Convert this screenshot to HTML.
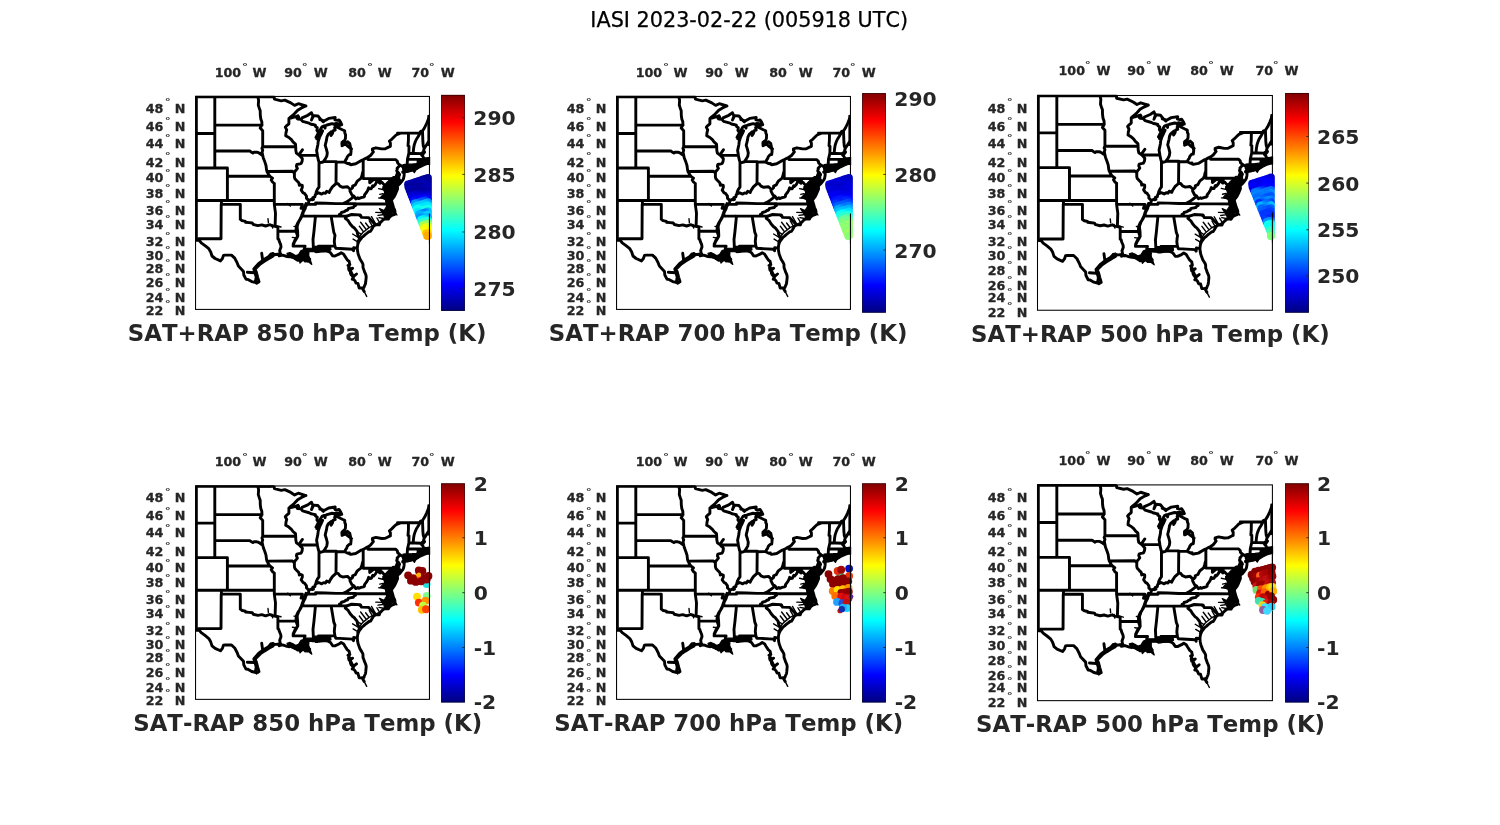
<!DOCTYPE html>
<html><head><meta charset="utf-8"><title>IASI 2023-02-22 (005918 UTC)</title>
<style>
html,body{margin:0;padding:0;background:#fff;}
body{width:1500px;height:825px;overflow:hidden;}
svg{display:block;font-family:"DejaVu Sans","Liberation Sans",sans-serif;font-kerning:none;}
.b{font-weight:bold;fill:#262626;}
.tk{font-size:12.7px;stroke:#262626;stroke-width:0.3px;}
.cb{font-size:20.3px;}
.xl{font-size:22.85px;}
.dg{font-size:11px;font-weight:bold;fill:#1a1a1a;}
</style></head><body>
<svg width="1500" height="825" viewBox="0 0 1500 825">
<defs>
<linearGradient id="jet" x1="0" y1="1" x2="0" y2="0">
<stop offset="0.0000" stop-color="#000080"/>
<stop offset="0.0156" stop-color="#00008f"/>
<stop offset="0.0312" stop-color="#00009f"/>
<stop offset="0.0469" stop-color="#0000af"/>
<stop offset="0.0625" stop-color="#0000bf"/>
<stop offset="0.0781" stop-color="#0000cf"/>
<stop offset="0.0938" stop-color="#0000df"/>
<stop offset="0.1094" stop-color="#0000ef"/>
<stop offset="0.1250" stop-color="#0000ff"/>
<stop offset="0.1406" stop-color="#0010ff"/>
<stop offset="0.1562" stop-color="#0020ff"/>
<stop offset="0.1719" stop-color="#0030ff"/>
<stop offset="0.1875" stop-color="#0040ff"/>
<stop offset="0.2031" stop-color="#0050ff"/>
<stop offset="0.2188" stop-color="#0060ff"/>
<stop offset="0.2344" stop-color="#0070ff"/>
<stop offset="0.2500" stop-color="#0080ff"/>
<stop offset="0.2656" stop-color="#008fff"/>
<stop offset="0.2812" stop-color="#009fff"/>
<stop offset="0.2969" stop-color="#00afff"/>
<stop offset="0.3125" stop-color="#00bfff"/>
<stop offset="0.3281" stop-color="#00cfff"/>
<stop offset="0.3438" stop-color="#00dfff"/>
<stop offset="0.3594" stop-color="#00efff"/>
<stop offset="0.3750" stop-color="#00ffff"/>
<stop offset="0.3906" stop-color="#10ffef"/>
<stop offset="0.4062" stop-color="#20ffdf"/>
<stop offset="0.4219" stop-color="#30ffcf"/>
<stop offset="0.4375" stop-color="#40ffbf"/>
<stop offset="0.4531" stop-color="#50ffaf"/>
<stop offset="0.4688" stop-color="#60ff9f"/>
<stop offset="0.4844" stop-color="#70ff8f"/>
<stop offset="0.5000" stop-color="#80ff80"/>
<stop offset="0.5156" stop-color="#8fff70"/>
<stop offset="0.5312" stop-color="#9fff60"/>
<stop offset="0.5469" stop-color="#afff50"/>
<stop offset="0.5625" stop-color="#bfff40"/>
<stop offset="0.5781" stop-color="#cfff30"/>
<stop offset="0.5938" stop-color="#dfff20"/>
<stop offset="0.6094" stop-color="#efff10"/>
<stop offset="0.6250" stop-color="#ffff00"/>
<stop offset="0.6406" stop-color="#ffef00"/>
<stop offset="0.6562" stop-color="#ffdf00"/>
<stop offset="0.6719" stop-color="#ffcf00"/>
<stop offset="0.6875" stop-color="#ffbf00"/>
<stop offset="0.7031" stop-color="#ffaf00"/>
<stop offset="0.7188" stop-color="#ff9f00"/>
<stop offset="0.7344" stop-color="#ff8f00"/>
<stop offset="0.7500" stop-color="#ff8000"/>
<stop offset="0.7656" stop-color="#ff7000"/>
<stop offset="0.7812" stop-color="#ff6000"/>
<stop offset="0.7969" stop-color="#ff5000"/>
<stop offset="0.8125" stop-color="#ff4000"/>
<stop offset="0.8281" stop-color="#ff3000"/>
<stop offset="0.8438" stop-color="#ff2000"/>
<stop offset="0.8594" stop-color="#ff1000"/>
<stop offset="0.8750" stop-color="#ff0000"/>
<stop offset="0.8906" stop-color="#ef0000"/>
<stop offset="0.9062" stop-color="#df0000"/>
<stop offset="0.9219" stop-color="#cf0000"/>
<stop offset="0.9375" stop-color="#bf0000"/>
<stop offset="0.9531" stop-color="#af0000"/>
<stop offset="0.9688" stop-color="#9f0000"/>
<stop offset="0.9844" stop-color="#8f0000"/>
<stop offset="1.0000" stop-color="#800000"/>
</linearGradient>
<clipPath id="mc"><rect x="195.55" y="96.45" width="234.30" height="212.97"/></clipPath>
<g id="usmap"><g clip-path="url(#mc)"><path d="M214.8 96.5L214.8 133.5M193.0 133.5L214.8 133.5M214.8 133.5L214.8 168.0M193.0 168.0L227.4 168.0M227.4 168.0L227.4 200.5M227.4 176.3L269.9 176.3M193.0 200.5L274.3 200.5M221.4 200.5L221.4 204.4L221.2 204.4L221.0 238.8M221.0 238.8L198.6 238.8L199.2 240.4L193.0 240.4M221.4 204.4L240.3 204.4L240.3 219.4M214.8 125.0L262.0 125.1M214.8 151.0L249.8 151.0L251.1 151.9L252.9 153.0L253.9 152.2L256.7 152.2L258.0 152.5L259.7 153.4L261.1 154.5L262.7 155.4M257.8 96.5L258.6 100.3L258.3 105.1L259.2 107.9L260.2 110.7L260.3 115.3L260.8 119.0L261.8 121.8L262.0 125.1M262.0 125.1L260.2 128.1L262.7 130.8L262.7 146.7L261.9 148.4L262.7 150.2L262.1 152.3L262.7 155.4M262.7 146.7L295.7 146.7M267.0 171.5L292.5 171.3L294.4 173.2M262.7 155.4L263.3 157.9L264.9 162.1L266.0 165.5L266.5 169.7L267.0 171.5L268.4 174.2L269.9 176.3L272.5 178.2L271.2 180.0L272.5 182.0L274.3 183.5M274.3 183.5L274.3 204.4L275.5 213.1L275.1 226.4M274.3 204.4L302.4 204.4L301.1 208.3L305.3 208.3M275.1 226.4L277.9 227.1L277.9 238.8L278.8 239.5L279.4 241.7L280.7 244.7L281.0 246.9L279.7 250.5L280.1 252.7L278.8 254.9L279.2 255.8M277.9 231.1L296.0 231.3M240.3 219.4L242.2 220.7L245.4 221.4L245.4 222.2L249.2 222.6L252.3 223.0L253.3 224.5L258.0 225.6L261.8 224.9L265.6 226.0L270.0 224.7L272.5 226.0L275.1 226.4M290.1 117.7L288.9 118.5L288.9 123.8L286.4 125.9L285.3 127.2L286.7 129.9L286.0 132.6L285.7 135.7L288.9 137.5L291.4 139.7L293.0 141.9L295.5 144.1L295.7 146.7M295.7 146.7L295.8 150.2L296.4 153.2L299.3 155.3L300.9 157.0L302.4 158.7L302.1 161.3L301.2 163.4L299.9 163.8L296.8 164.5L296.4 166.3L297.4 168.4L296.4 169.7L294.6 171.8L294.4 173.2L294.4 176.9L294.9 178.8L296.8 180.8L298.8 182.8L299.3 185.3L300.5 184.8L302.3 185.4L302.3 187.5L301.2 190.1L303.1 192.8L304.5 193.3L306.5 196.1L306.4 198.1L308.9 200.6M308.9 200.6L308.4 203.6L306.2 204.0L307.0 204.4L305.6 206.8L305.3 208.3L304.0 210.7L302.9 213.0L302.9 215.1L301.5 216.1L299.7 219.9L297.7 223.0L296.4 226.0L296.1 228.6L296.0 231.3L297.7 236.3L296.4 238.8L294.4 242.1L293.3 244.7L293.1 246.1L305.1 246.1L304.3 248.7L305.6 251.3L306.3 252.2M299.3 155.3L317.3 155.4M308.9 200.6L311.4 199.3L312.2 199.9L313.5 199.4L312.9 197.5L314.9 196.8L315.2 194.9L315.8 194.1L318.7 192.8L321.7 194.1L323.6 192.9L325.5 193.3L326.7 191.3L329.2 192.5L330.1 190.4L332.4 186.9L336.0 183.7L338.1 183.7L340.0 186.1L342.8 187.3L347.5 186.7L350.1 189.2L351.0 189.2L352.6 187.7L352.6 186.1L355.3 184.9L356.6 182.3L357.3 181.2L360.9 178.4L361.9 175.7L362.5 173.0L363.2 171.0M315.8 194.1L316.3 191.7L317.5 189.2L319.0 187.1L319.0 181.6L319.0 161.9M363.2 159.8L363.2 178.6M363.2 178.6L393.0 178.6M393.0 178.6L393.5 177.9L394.3 177.6L395.3 177.9M393.0 178.6L393.0 188.8L397.6 188.9M369.7 178.6L369.7 182.8L372.3 180.6L374.3 179.2L376.1 180.2L377.9 178.8L380.2 179.6L380.7 181.9L381.9 182.3L383.5 184.1L385.1 185.3L385.1 186.9L383.5 188.9L385.3 189.7L387.9 191.3L389.6 192.2M380.7 181.9L380.1 183.3L376.8 180.7L376.8 181.7L375.5 184.2L373.6 186.4L372.7 185.7L371.3 188.7L369.7 188.8L368.6 187.7L367.7 190.4L366.4 192.5L364.5 194.9L364.5 196.3L363.5 197.1L361.1 197.7L358.7 198.6L357.9 197.8L355.8 198.9L354.0 196.2M354.0 196.2L351.9 194.9L350.0 191.2L350.1 189.2M354.0 196.2L351.9 198.1L349.3 200.1L346.9 201.7L343.2 203.6M343.2 203.6L355.8 203.7L392.5 204.0M343.2 203.6L336.3 203.6L325.5 203.2L315.6 203.0L315.6 204.4L307.0 204.4M301.5 216.1L346.8 216.1M339.2 216.1L339.4 214.4L341.0 213.8L341.5 212.5L344.4 211.7L345.9 210.5L347.7 210.0L348.2 208.7L350.0 208.1L353.3 207.5L354.3 206.0L355.5 205.6L355.8 203.7M346.8 216.1L351.6 214.5L359.9 214.9L359.9 215.7L360.6 215.3L361.5 217.4L368.5 217.6L375.6 224.9M346.8 216.1L345.3 218.4L348.2 220.7L350.0 223.7L352.6 226.7L354.1 227.7L357.0 231.3L357.6 234.3L359.2 237.6L361.1 238.5M331.1 216.1L333.8 232.3L335.0 235.3L334.6 238.0L334.3 241.7L334.9 246.1L335.8 248.3M335.8 248.3L352.5 249.3L353.5 250.8L353.7 247.7L357.3 248.3M334.9 246.1L318.5 246.1L319.8 248.7L319.0 251.4M314.7 216.1L315.4 216.8L313.9 232.0L313.0 239.5L313.5 250.9M336.2 162.1L336.0 183.7M344.7 161.9L336.2 162.1L336.2 161.6L323.4 161.6M367.9 157.3L367.9 159.6L395.8 159.6L397.5 161.5L397.6 163.0L399.9 165.0M399.9 165.0L398.6 166.8L397.1 168.3L397.3 169.3L396.7 170.7L397.6 173.0L399.5 174.7L397.6 176.3L397.1 177.1L395.3 177.9L394.4 179.3M399.9 165.0L404.9 168.0M406.4 168.1L406.0 167.2L407.5 166.3L407.1 165.5L407.5 159.2L408.9 153.2L409.0 146.3L408.0 145.8L408.4 140.6L408.5 133.4M407.5 159.2L418.1 159.4L420.8 159.4L420.8 160.4L421.1 161.5L422.4 163.9M418.1 159.4L418.1 164.7L417.8 165.3M408.9 153.2L421.3 153.6L421.6 153.3L423.2 152.2L424.3 152.2M199.2 240.4L201.2 242.8L205.0 245.6L208.8 248.7L210.7 252.0L212.0 256.0L215.1 258.5L220.5 260.9L222.4 258.5L223.5 255.4L225.2 255.1L231.5 255.1L234.7 258.1L237.2 262.9L238.4 266.1L243.5 271.4L243.8 275.0L246.0 279.2L247.9 279.4L251.7 281.6L256.1 282.7L258.3 282.3M279.2 255.8L282.6 255.1L287.0 256.5L289.5 256.9L290.8 256.4L291.7 257.1L294.6 257.1L295.2 258.5L297.7 260.3L300.9 260.1L302.1 260.0L303.4 258.9L304.0 258.5L305.9 258.9L307.2 261.1L308.7 260.7L309.7 259.3L308.1 258.2L306.5 257.1L305.9 256.0L307.8 254.9L308.1 253.1L305.9 252.7L306.3 252.2M306.3 252.2L307.8 251.3L309.1 250.8L310.3 250.5L312.5 250.9L313.5 250.9L315.4 251.1L315.8 248.5L316.3 248.5L316.6 250.5L316.0 251.8L317.9 251.6L319.0 251.4M319.0 251.4L321.0 251.1L325.5 250.7L328.6 251.6L330.5 252.7L332.7 255.9L334.9 256.0L339.0 254.2L341.2 252.7L343.7 254.2L345.0 256.4L347.2 259.8L349.1 261.4L349.7 264.3L348.8 266.8L348.6 268.2L349.1 270.4L351.0 268.6L350.4 271.4L350.4 272.9L351.0 274.6L352.6 276.4L353.5 275.3L353.2 278.9L355.1 281.0L356.0 283.1L357.9 283.4L359.2 288.0L360.8 288.0L363.9 287.6L364.2 286.6L365.5 283.6L365.8 281.3L366.2 277.1L366.0 275.3L365.2 273.2L364.5 271.8L364.1 270.4L363.0 267.5L363.0 264.7L362.7 263.6L361.7 261.8L360.1 259.3L358.2 254.2L357.6 251.3L357.3 248.3M357.3 248.3L357.6 245.4L358.2 243.2L359.2 241.0L361.1 238.5L362.0 237.3L363.6 236.1L365.2 234.6L367.1 233.2L369.0 231.7L370.5 231.3L371.5 229.8L373.4 226.4L375.6 224.9L379.3 224.9L380.0 223.0L382.2 220.7L384.7 218.8L388.3 219.1L389.8 216.8L391.7 215.5L394.7 214.3L395.0 211.4L394.6 209.9L393.5 207.5L392.5 204.0L391.8 201.7L391.7 201.0M391.8 199.5L394.2 196.5L395.8 193.3L397.6 188.9L397.4 186.1L396.1 184.5L395.4 182.0L394.5 180.8L394.4 179.3M394.4 179.3L394.7 180.4L396.1 182.0L397.3 182.8L398.6 183.1L398.3 185.0L399.9 183.7L401.6 181.5L403.0 179.6L403.6 178.2L404.1 175.5L404.3 172.4L402.7 172.3L402.7 171.8L403.9 170.9L404.9 168.0L404.6 165.5M404.1 171.3L406.8 171.5L410.6 170.7L414.4 169.3L417.8 167.4L415.3 166.8L413.1 168.3L410.1 168.3L407.4 168.7L405.7 169.7L404.1 171.3M405.7 169.3L406.4 168.1L409.3 166.8L411.2 165.9L416.2 165.5L417.8 165.3L420.2 165.0L420.7 161.3L421.9 163.8L422.4 163.9L423.8 163.4L425.4 161.7L425.3 163.6L427.6 162.7L429.8 162.4M399.9 133.5L396.1 135.0L394.8 136.2L391.7 139.3L389.4 141.2L390.4 143.2L390.4 146.3L388.5 147.1L385.3 148.7L381.6 148.9L375.9 147.8L372.4 148.8L372.4 150.2L373.4 151.9L370.5 155.5L367.9 157.3L365.8 158.3L363.2 159.8L361.4 160.4L355.7 163.8L350.7 164.7L349.4 164.2L349.4 163.4L347.8 163.6L344.7 162.1M344.7 161.9L345.6 160.0L346.6 158.7L347.2 156.9L348.5 155.3L349.7 154.5L350.7 154.5L351.1 151.0L350.4 146.7L349.8 143.7L347.5 141.7L345.6 143.0L344.7 144.5L342.0 145.7L343.1 142.1L344.7 140.1L345.4 138.7L345.6 134.8L344.8 133.0L344.7 130.8L342.3 129.7L338.3 127.7L336.6 126.5L334.6 127.7L335.2 130.1L333.3 130.6L332.4 133.5L331.1 135.6L331.4 131.7L328.2 134.4L327.0 136.8L326.5 140.1L325.8 142.8L325.2 145.4L326.4 149.1L327.3 152.9L326.8 156.2L325.5 158.7L323.4 161.6L322.9 162.0L320.4 162.7L319.0 161.9L318.5 160.6L317.3 155.4L317.3 154.6L316.6 150.6L317.9 144.5L318.2 141.5L319.6 137.1L321.0 134.4L322.6 130.8L320.1 131.7L317.9 135.3L316.0 137.5L318.5 132.6L320.4 129.5L322.0 126.8L324.2 125.9L325.1 128.1L325.1 125.9L327.0 125.0L332.1 123.7L334.9 124.1L336.7 125.7L339.0 124.7L341.8 124.8L340.6 122.2L339.0 119.9L337.4 120.4L334.9 119.9L335.2 117.5L328.7 118.4L324.5 120.7L322.9 120.4L319.8 119.5M300.9 119.3L297.7 119.0L298.7 117.7L298.0 115.8L295.8 116.7L290.8 118.1L290.1 117.4L292.9 115.2L294.6 113.5L297.7 110.2L301.5 107.9L305.9 106.0M318.5 132.6L316.9 130.4L317.3 127.7L315.4 126.3L315.4 125.2L312.8 124.5L311.0 124.2L309.1 123.2L302.6 121.4L300.9 119.3M305.9 106.0L298.3 103.7L294.6 105.4L290.8 102.9L284.8 100.1L281.3 100.8L274.4 99.2L273.8 93.6L270.9 92.8L270.9 96.5L257.8 96.5M397.5 133.1L419.6 133.0L420.6 131.5L422.5 131.0L424.7 127.5L426.8 123.0L429.6 116.0M413.2 152.6L413.6 148.5L414.2 145.0L415.2 142.0L416.3 139.5L418.2 136.5L420.0 133.2M424.2 148.5L423.3 146.0L422.9 142.0L422.5 131.0M429.8 140.5L428.0 142.5L426.2 145.5L424.2 148.5L423.6 150.6L424.6 152.0L423.2 153.8L421.6 155.0L423.0 156.5L423.6 158.3L425.5 158.8L429.6 158.6M362.5 288.5L364.2 291.5M256.6 283.2L259.0 281.7L257.7 277.3L256.3 272.0L255.0 269.3L260.3 264.0L264.3 261.3L269.7 258.0L272.3 255.0L277.7 254.3L280.6 254.0M255.4 282.0L256.2 277.0L254.9 272.5L253.8 269.0L258.5 263.6L263.5 259.8L268.5 256.8L271.0 254.0M261.7 253.3L262.7 260.5M247.3 272.3L254.3 272.7M345.0 143.5L347.5 146.0L351.5 149.0M323.4 121.8L320.9 119.6L318.0 116.0L313.6 115.6L311.5 120.0L312.9 116.0L311.5 112.7L307.8 115.3L302.0 117.8L301.2 119.4M350.3 270.0L352.6 268.3M354.3 275.8L356.5 274.0M348.0 265.5L349.8 264.5M352.2 279.2L353.6 276.8M349.0 267.0L350.5 271.0L352.5 275.0M306.0 203.5L304.6 207.0L303.4 210.5L302.0 214.5L301.0 218.0M299.2 154.4L302.4 149.8M301.0 218.0L298.6 222.0L297.0 226.5L297.6 231.0L297.8 236.0L295.0 240.0L293.2 244.0" fill="none" stroke="#000" stroke-width="2.9" stroke-linejoin="round" stroke-linecap="round"/><path d="M357.3 241.6L353.1 239.1M359.0 237.8L352.6 234.0M360.7 233.9L357.3 231.9M362.9 231.0L359.3 226.2M365.8 229.0L360.6 222.2M368.6 227.0L365.6 223.0M371.8 225.2L369.3 220.9M375.5 223.5L371.5 216.7M379.2 221.8L376.9 218.0M363.6 290.5L366.7 296.4M383.5 218.5L379.0 217.6M382.0 212.6L375.8 212.4M382.6 214.8L378.0 215.4M382.5 189.5L378.6 188.6M384.2 198.4L378.8 198.0M385.6 203.6L381.0 204.4M383.0 193.6L379.8 194.4M268.4 222.6L268.0 218.8M272.0 224.4L272.6 228.0M276.6 225.8L281.0 227.0M290.4 206.0L287.6 203.4M296.0 238.0L292.4 237.4M297.8 227.0L294.0 226.4M357.0 243.0L359.0 237.5L362.6 232.8L369.0 227.6L375.5 224.4L381.5 221.6" fill="none" stroke="#000" stroke-width="1.4" stroke-linejoin="round" stroke-linecap="round"/><path d="M387.4 181.9L390.0 179.4L393.3 176.6L396.6 177.6L398.6 181.7L397.2 186.0L396.2 189.5L394.4 195.5L392.0 200.6L392.0 204.0L392.4 207.2L394.2 210.5L397.0 215.1L392.6 212.6L390.0 216.8L387.2 219.2L384.6 218.6L384.0 215.6L382.6 213.4L379.5 208.6L384.0 210.6L386.6 206.5L385.4 199.6L380.5 197.5L384.8 192.8L382.8 187.0ZM403.0 164.5L407.9 164.2L412.0 164.0L416.6 163.6L419.9 161.5L421.5 158.8L429.6 158.0L429.6 163.8L425.0 165.2L419.9 167.6L416.0 170.0L414.4 172.7L412.5 170.5L408.0 172.0L404.5 172.0L402.5 169.0ZM298.5 254.5L301.0 250.5L304.0 249.5L307.0 251.0L308.5 255.0L310.0 259.0L311.8 264.4L308.0 261.5L305.0 262.0L303.0 260.0L300.0 263.0L299.0 259.5L294.0 257.5L290.0 255.0L292.0 254.2L296.0 255.5ZM341.2 142.0L342.8 140.6L344.8 141.0L345.6 143.0L344.6 145.2L342.4 145.6L341.0 144.2ZM316.0 139.5L317.8 134.0L319.6 130.2L321.0 130.8L319.6 135.0L318.0 140.2ZM295.2 116.6L297.6 115.4L299.4 116.4L298.8 118.6L296.4 119.0ZM333.5 123.8L336.0 122.6L339.5 123.0L342.0 124.6L340.0 126.4L337.0 125.6L334.5 126.6ZM394.6 178.0L396.6 173.0L398.6 171.5L400.0 173.5L399.6 178.5L401.2 181.0L399.0 182.5L396.0 180.6ZM269.5 256.5L270.6 253.6L273.0 252.6L275.0 254.0L273.6 256.8L271.0 258.2ZM287.0 253.4L290.0 252.6L293.0 254.0L296.0 256.0L298.0 258.6L295.0 259.6L291.5 257.6L288.0 256.2ZM305.5 248.4L313.5 248.2L313.8 246.4L330.4 246.2L331.0 249.8L328.0 251.6L322.0 251.4L316.0 251.8L313.0 251.0L309.0 251.2L305.8 250.6Z" fill="#000" stroke="#000" stroke-width="1.2" stroke-linejoin="round"/></g><path d="M196.5 96 V239.5 M195.2 96.95 H274.5 M428.7 115 V146 M428.9 157 V165" fill="none" stroke="#000" stroke-width="2.6"/></g>
</defs>
<rect width="1500" height="825" fill="#fff"/>
<text x="749.2" y="27.0" font-size="20.75" text-anchor="middle" fill="#000" stroke="#000" stroke-width="0.25">IASI 2023-02-22 (005918 UTC)</text>
<g transform="matrix(1.00000 0 0 1.00000 0.00 0.00)">
<use href="#usmap"/>
</g>
<rect x="195.55" y="96.45" width="233.90" height="212.97" fill="none" stroke="#000" stroke-width="1.05"/>
<g transform="matrix(1.00000 0 0 1.00000 0.00 0.00)">
<circle cx="428.0" cy="177.8" r="3.9" fill="#000096"/><circle cx="425.5" cy="178.6" r="3.9" fill="#000095"/><circle cx="423.0" cy="179.5" r="3.9" fill="#000097"/><circle cx="420.5" cy="180.3" r="3.9" fill="#00009c"/><circle cx="418.0" cy="181.1" r="3.9" fill="#0000a3"/><circle cx="415.5" cy="181.9" r="3.9" fill="#0000a9"/><circle cx="413.0" cy="182.8" r="3.9" fill="#0000ae"/><circle cx="410.5" cy="183.6" r="3.9" fill="#0000af"/><circle cx="408.0" cy="184.4" r="3.9" fill="#0000ad"/><circle cx="428.0" cy="180.9" r="3.9" fill="#000098"/><circle cx="425.6" cy="181.7" r="3.9" fill="#00009f"/><circle cx="423.1" cy="182.5" r="3.9" fill="#0000a8"/><circle cx="420.7" cy="183.3" r="3.9" fill="#0000ae"/><circle cx="418.2" cy="184.1" r="3.9" fill="#0000b0"/><circle cx="415.8" cy="184.9" r="3.9" fill="#0000ac"/><circle cx="413.4" cy="185.7" r="3.9" fill="#0000a5"/><circle cx="410.9" cy="186.5" r="3.9" fill="#00009d"/><circle cx="408.5" cy="187.3" r="3.9" fill="#000099"/><circle cx="428.0" cy="183.9" r="3.9" fill="#0000a6"/><circle cx="425.7" cy="184.7" r="3.9" fill="#0000af"/><circle cx="423.4" cy="185.4" r="3.9" fill="#0000af"/><circle cx="421.1" cy="186.2" r="3.9" fill="#0000a6"/><circle cx="418.8" cy="186.9" r="3.9" fill="#00009c"/><circle cx="416.5" cy="187.7" r="3.9" fill="#00009a"/><circle cx="414.2" cy="188.5" r="3.9" fill="#0000a2"/><circle cx="411.8" cy="189.2" r="3.9" fill="#0000ae"/><circle cx="409.5" cy="190.0" r="3.9" fill="#0000b2"/><circle cx="428.0" cy="187.0" r="3.9" fill="#0000b1"/><circle cx="425.5" cy="187.8" r="3.9" fill="#0000b2"/><circle cx="423.0" cy="188.6" r="3.9" fill="#0000af"/><circle cx="420.5" cy="189.4" r="3.9" fill="#0000a9"/><circle cx="418.0" cy="190.2" r="3.9" fill="#0000a3"/><circle cx="415.6" cy="191.1" r="3.9" fill="#00009e"/><circle cx="413.1" cy="191.9" r="3.9" fill="#00009b"/><circle cx="410.6" cy="192.7" r="3.9" fill="#00009d"/><circle cx="428.0" cy="190.0" r="3.9" fill="#0000b0"/><circle cx="425.7" cy="190.8" r="3.9" fill="#0000a6"/><circle cx="423.3" cy="191.5" r="3.9" fill="#00009e"/><circle cx="421.0" cy="192.3" r="3.9" fill="#00009c"/><circle cx="418.6" cy="193.1" r="3.9" fill="#0000a7"/><circle cx="416.3" cy="193.9" r="3.9" fill="#0000ba"/><circle cx="414.0" cy="194.6" r="3.9" fill="#0000c9"/><circle cx="411.6" cy="195.4" r="3.9" fill="#0000cf"/><circle cx="428.0" cy="193.1" r="3.9" fill="#0000b7"/><circle cx="425.4" cy="193.9" r="3.9" fill="#0000bc"/><circle cx="422.9" cy="194.7" r="3.9" fill="#0000c3"/><circle cx="420.3" cy="195.6" r="3.9" fill="#0000cc"/><circle cx="417.8" cy="196.4" r="3.9" fill="#0000d3"/><circle cx="415.2" cy="197.3" r="3.9" fill="#0000da"/><circle cx="412.7" cy="198.1" r="3.9" fill="#0000e2"/><circle cx="428.0" cy="196.1" r="3.9" fill="#0000d8"/><circle cx="425.6" cy="196.9" r="3.9" fill="#0000de"/><circle cx="423.2" cy="197.7" r="3.9" fill="#0000ea"/><circle cx="420.8" cy="198.5" r="3.9" fill="#0000f8"/><circle cx="418.5" cy="199.2" r="3.9" fill="#0002ff"/><circle cx="416.1" cy="200.0" r="3.9" fill="#0003ff"/><circle cx="413.7" cy="200.8" r="3.9" fill="#0010ff"/><circle cx="428.0" cy="199.2" r="3.9" fill="#0000fa"/><circle cx="425.8" cy="199.9" r="3.9" fill="#0023ff"/><circle cx="423.6" cy="200.6" r="3.9" fill="#0042ff"/><circle cx="421.4" cy="201.3" r="3.9" fill="#0053ff"/><circle cx="419.2" cy="202.1" r="3.9" fill="#005eff"/><circle cx="416.9" cy="202.8" r="3.9" fill="#0073ff"/><circle cx="414.7" cy="203.5" r="3.9" fill="#0095ff"/><circle cx="428.0" cy="202.2" r="3.9" fill="#0097ff"/><circle cx="425.6" cy="203.0" r="3.9" fill="#00b4ff"/><circle cx="423.1" cy="203.8" r="3.9" fill="#00c4ff"/><circle cx="420.7" cy="204.6" r="3.9" fill="#00caff"/><circle cx="418.2" cy="205.4" r="3.9" fill="#00ccff"/><circle cx="415.8" cy="206.2" r="3.9" fill="#00ceff"/><circle cx="428.0" cy="205.3" r="3.9" fill="#00e5ff"/><circle cx="425.8" cy="206.0" r="3.9" fill="#00e7ff"/><circle cx="423.5" cy="206.7" r="3.9" fill="#00e2ff"/><circle cx="421.3" cy="207.5" r="3.9" fill="#00e6ff"/><circle cx="419.1" cy="208.2" r="3.9" fill="#00f7ff"/><circle cx="416.8" cy="208.9" r="3.9" fill="#0cfff3"/><circle cx="428.0" cy="208.3" r="3.9" fill="#0ffff0"/><circle cx="425.5" cy="209.1" r="3.9" fill="#13ffec"/><circle cx="422.9" cy="210.0" r="3.9" fill="#17ffe8"/><circle cx="420.4" cy="210.8" r="3.9" fill="#17ffe8"/><circle cx="417.9" cy="211.6" r="3.9" fill="#00ebff"/><circle cx="428.0" cy="211.4" r="3.9" fill="#00beff"/><circle cx="425.7" cy="212.1" r="3.9" fill="#0095ff"/><circle cx="423.4" cy="212.9" r="3.9" fill="#0077ff"/><circle cx="421.2" cy="213.6" r="3.9" fill="#0092ff"/><circle cx="418.9" cy="214.4" r="3.9" fill="#00b2ff"/><circle cx="428.0" cy="214.4" r="3.9" fill="#00caff"/><circle cx="426.0" cy="215.1" r="3.9" fill="#00d2ff"/><circle cx="424.0" cy="215.7" r="3.9" fill="#00ccff"/><circle cx="421.9" cy="216.4" r="3.9" fill="#00adff"/><circle cx="419.9" cy="217.1" r="3.9" fill="#0097ff"/><circle cx="428.0" cy="217.5" r="3.9" fill="#009dff"/><circle cx="425.7" cy="218.2" r="3.9" fill="#00c3ff"/><circle cx="423.3" cy="219.0" r="3.9" fill="#00e4ff"/><circle cx="421.0" cy="219.8" r="3.9" fill="#00faff"/><circle cx="428.0" cy="220.5" r="3.9" fill="#22ffdd"/><circle cx="426.0" cy="221.2" r="3.9" fill="#2effd1"/><circle cx="424.0" cy="221.8" r="3.9" fill="#28ffd7"/><circle cx="422.0" cy="222.5" r="3.9" fill="#3affc5"/><circle cx="428.0" cy="223.6" r="3.9" fill="#8dff72"/><circle cx="425.5" cy="224.4" r="3.9" fill="#9fff60"/><circle cx="423.1" cy="225.2" r="3.9" fill="#a8ff57"/><circle cx="428.0" cy="226.6" r="3.9" fill="#ddff22"/><circle cx="426.0" cy="227.2" r="3.9" fill="#daff25"/><circle cx="424.1" cy="227.9" r="3.9" fill="#eeff11"/><circle cx="428.0" cy="229.7" r="3.9" fill="#f7ff08"/><circle cx="426.6" cy="230.1" r="3.9" fill="#fff200"/><circle cx="425.1" cy="230.6" r="3.9" fill="#fffe00"/><circle cx="428.0" cy="232.7" r="3.9" fill="#ffdc00"/><circle cx="426.2" cy="233.3" r="3.9" fill="#ffc000"/><circle cx="428.0" cy="235.8" r="3.9" fill="#ffa200"/><circle cx="427.2" cy="236.0" r="3.9" fill="#ffac00"/>
</g>
<path d="M429.45 213.4V243.4" stroke="#000" stroke-width="1.05"/>
<rect x="441.1" y="94.9" width="23.8" height="216.0" fill="url(#jet)"/>
<rect x="441.5" y="95.3" width="23.0" height="215.2" fill="none" stroke="#000" stroke-opacity="0.55" stroke-width="0.9"/>
<path d="M462.3 117.7H464.9" stroke="#262626" stroke-width="0.9"/>
<text class="b cb" x="473.3" y="125.1">290</text>
<path d="M462.3 174.4H464.9" stroke="#262626" stroke-width="0.9"/>
<text class="b cb" x="473.3" y="181.8">285</text>
<path d="M462.3 232.0H464.9" stroke="#262626" stroke-width="0.9"/>
<text class="b cb" x="473.3" y="239.4">280</text>
<path d="M462.3 288.7H464.9" stroke="#262626" stroke-width="0.9"/>
<text class="b cb" x="473.3" y="296.1">275</text>
<text class="b tk" y="76.8"><tspan x="214.7">100</tspan><tspan x="252.6">W</tspan></text>
<text class="dg" transform="translate(245.1 64.5) scale(1.09 0.86)" x="-2.75" y="6.55">°</text>
<text class="b tk" y="76.8"><tspan x="284.2">90</tspan><tspan x="313.8">W</tspan></text>
<text class="dg" transform="translate(304.8 64.5) scale(1.09 0.86)" x="-2.75" y="6.55">°</text>
<text class="b tk" y="76.8"><tspan x="348.2">80</tspan><tspan x="377.8">W</tspan></text>
<text class="dg" transform="translate(370.0 64.5) scale(1.09 0.86)" x="-2.75" y="6.55">°</text>
<text class="b tk" y="76.8"><tspan x="411.4">70</tspan><tspan x="440.8">W</tspan></text>
<text class="dg" transform="translate(431.8 64.5) scale(1.09 0.86)" x="-2.75" y="6.55">°</text>
<text class="b tk" y="112.6"><tspan x="145.8">48</tspan><tspan x="174.8">N</tspan></text>
<text class="dg" transform="translate(167.7 99.4) scale(1.09 0.86)" x="-2.75" y="6.55">°</text>
<text class="b tk" y="130.7"><tspan x="145.8">46</tspan><tspan x="174.8">N</tspan></text>
<text class="dg" transform="translate(167.7 118.5) scale(1.09 0.86)" x="-2.75" y="6.55">°</text>
<text class="b tk" y="147.7"><tspan x="145.8">44</tspan><tspan x="174.8">N</tspan></text>
<text class="dg" transform="translate(167.7 135.4) scale(1.09 0.86)" x="-2.75" y="6.55">°</text>
<text class="b tk" y="166.6"><tspan x="145.8">42</tspan><tspan x="174.8">N</tspan></text>
<text class="dg" transform="translate(167.7 153.4) scale(1.09 0.86)" x="-2.75" y="6.55">°</text>
<text class="b tk" y="182.3"><tspan x="145.8">40</tspan><tspan x="174.8">N</tspan></text>
<text class="dg" transform="translate(167.7 170.5) scale(1.09 0.86)" x="-2.75" y="6.55">°</text>
<text class="b tk" y="197.7"><tspan x="145.8">38</tspan><tspan x="174.8">N</tspan></text>
<text class="dg" transform="translate(167.7 185.7) scale(1.09 0.86)" x="-2.75" y="6.55">°</text>
<text class="b tk" y="214.6"><tspan x="145.8">36</tspan><tspan x="174.8">N</tspan></text>
<text class="dg" transform="translate(167.7 201.5) scale(1.09 0.86)" x="-2.75" y="6.55">°</text>
<text class="b tk" y="228.7"><tspan x="145.8">34</tspan><tspan x="174.8">N</tspan></text>
<text class="dg" transform="translate(167.7 216.5) scale(1.09 0.86)" x="-2.75" y="6.55">°</text>
<text class="b tk" y="245.6"><tspan x="145.8">32</tspan><tspan x="174.8">N</tspan></text>
<text class="dg" transform="translate(167.7 233.5) scale(1.09 0.86)" x="-2.75" y="6.55">°</text>
<text class="b tk" y="259.7"><tspan x="145.8">30</tspan><tspan x="174.8">N</tspan></text>
<text class="dg" transform="translate(167.7 247.3) scale(1.09 0.86)" x="-2.75" y="6.55">°</text>
<text class="b tk" y="272.8"><tspan x="145.8">28</tspan><tspan x="174.8">N</tspan></text>
<text class="dg" transform="translate(167.7 260.4) scale(1.09 0.86)" x="-2.75" y="6.55">°</text>
<text class="b tk" y="287.4"><tspan x="145.8">26</tspan><tspan x="174.8">N</tspan></text>
<text class="dg" transform="translate(167.7 274.6) scale(1.09 0.86)" x="-2.75" y="6.55">°</text>
<text class="b tk" y="301.9"><tspan x="145.8">24</tspan><tspan x="174.8">N</tspan></text>
<text class="dg" transform="translate(167.7 289.1) scale(1.09 0.86)" x="-2.75" y="6.55">°</text>
<text class="b tk" y="315.0"><tspan x="145.8">22</tspan><tspan x="174.8">N</tspan></text>
<text class="dg" transform="translate(167.7 301.2) scale(1.09 0.86)" x="-2.75" y="6.55">°</text>
<text class="b xl" x="127.8" y="340.9">SAT+RAP 850 hPa Temp (K)</text>
<g transform="matrix(1.00000 0 0 1.00000 421.00 0.00)">
<use href="#usmap"/>
</g>
<rect x="616.55" y="96.45" width="233.90" height="212.97" fill="none" stroke="#000" stroke-width="1.05"/>
<g transform="matrix(1.00000 0 0 1.00000 421.00 0.00)">
<circle cx="428.0" cy="177.8" r="3.9" fill="#0000c0"/><circle cx="425.5" cy="178.6" r="3.9" fill="#0000bf"/><circle cx="423.0" cy="179.5" r="3.9" fill="#0000c1"/><circle cx="420.5" cy="180.3" r="3.9" fill="#0000c6"/><circle cx="418.0" cy="181.1" r="3.9" fill="#0000cd"/><circle cx="415.5" cy="181.9" r="3.9" fill="#0000d3"/><circle cx="413.0" cy="182.8" r="3.9" fill="#0000d8"/><circle cx="410.5" cy="183.6" r="3.9" fill="#0000da"/><circle cx="408.0" cy="184.4" r="3.9" fill="#0000d8"/><circle cx="428.0" cy="180.9" r="3.9" fill="#0000c3"/><circle cx="425.6" cy="181.7" r="3.9" fill="#0000ca"/><circle cx="423.1" cy="182.5" r="3.9" fill="#0000d2"/><circle cx="420.7" cy="183.3" r="3.9" fill="#0000d9"/><circle cx="418.2" cy="184.1" r="3.9" fill="#0000da"/><circle cx="415.8" cy="184.9" r="3.9" fill="#0000d7"/><circle cx="413.4" cy="185.7" r="3.9" fill="#0000d0"/><circle cx="410.9" cy="186.5" r="3.9" fill="#0000c8"/><circle cx="408.5" cy="187.3" r="3.9" fill="#0000c4"/><circle cx="428.0" cy="183.9" r="3.9" fill="#0000d1"/><circle cx="425.7" cy="184.7" r="3.9" fill="#0000da"/><circle cx="423.4" cy="185.4" r="3.9" fill="#0000da"/><circle cx="421.1" cy="186.2" r="3.9" fill="#0000d1"/><circle cx="418.8" cy="186.9" r="3.9" fill="#0000c7"/><circle cx="416.5" cy="187.7" r="3.9" fill="#0000c5"/><circle cx="414.2" cy="188.5" r="3.9" fill="#0000ce"/><circle cx="411.8" cy="189.2" r="3.9" fill="#0000db"/><circle cx="409.5" cy="190.0" r="3.9" fill="#0000e1"/><circle cx="428.0" cy="187.0" r="3.9" fill="#0000dd"/><circle cx="425.5" cy="187.8" r="3.9" fill="#0000df"/><circle cx="423.0" cy="188.6" r="3.9" fill="#0000dd"/><circle cx="420.5" cy="189.4" r="3.9" fill="#0000da"/><circle cx="418.0" cy="190.2" r="3.9" fill="#0000d5"/><circle cx="415.6" cy="191.1" r="3.9" fill="#0000d1"/><circle cx="413.1" cy="191.9" r="3.9" fill="#0000d0"/><circle cx="410.6" cy="192.7" r="3.9" fill="#0000d3"/><circle cx="428.0" cy="190.0" r="3.9" fill="#0000e4"/><circle cx="425.7" cy="190.8" r="3.9" fill="#0000dc"/><circle cx="423.3" cy="191.5" r="3.9" fill="#0000d5"/><circle cx="421.0" cy="192.3" r="3.9" fill="#0000d5"/><circle cx="418.6" cy="193.1" r="3.9" fill="#0000de"/><circle cx="416.3" cy="193.9" r="3.9" fill="#0000eb"/><circle cx="414.0" cy="194.6" r="3.9" fill="#0000f3"/><circle cx="411.6" cy="195.4" r="3.9" fill="#0000f3"/><circle cx="428.0" cy="193.1" r="3.9" fill="#0000e2"/><circle cx="425.4" cy="193.9" r="3.9" fill="#0000e2"/><circle cx="422.9" cy="194.7" r="3.9" fill="#0000e2"/><circle cx="420.3" cy="195.6" r="3.9" fill="#0000e4"/><circle cx="417.8" cy="196.4" r="3.9" fill="#0000e9"/><circle cx="415.2" cy="197.3" r="3.9" fill="#0000ef"/><circle cx="412.7" cy="198.1" r="3.9" fill="#0000f6"/><circle cx="428.0" cy="196.1" r="3.9" fill="#0000ec"/><circle cx="425.6" cy="196.9" r="3.9" fill="#0000f2"/><circle cx="423.2" cy="197.7" r="3.9" fill="#0000fd"/><circle cx="420.8" cy="198.5" r="3.9" fill="#000bff"/><circle cx="418.5" cy="199.2" r="3.9" fill="#0014ff"/><circle cx="416.1" cy="200.0" r="3.9" fill="#0017ff"/><circle cx="413.7" cy="200.8" r="3.9" fill="#0014ff"/><circle cx="428.0" cy="199.2" r="3.9" fill="#0009ff"/><circle cx="425.8" cy="199.9" r="3.9" fill="#001cff"/><circle cx="423.6" cy="200.6" r="3.9" fill="#0027ff"/><circle cx="421.4" cy="201.3" r="3.9" fill="#0023ff"/><circle cx="419.2" cy="202.1" r="3.9" fill="#001bff"/><circle cx="416.9" cy="202.8" r="3.9" fill="#0021ff"/><circle cx="414.7" cy="203.5" r="3.9" fill="#0034ff"/><circle cx="428.0" cy="202.2" r="3.9" fill="#0037ff"/><circle cx="425.6" cy="203.0" r="3.9" fill="#0046ff"/><circle cx="423.1" cy="203.8" r="3.9" fill="#0050ff"/><circle cx="420.7" cy="204.6" r="3.9" fill="#0056ff"/><circle cx="418.2" cy="205.4" r="3.9" fill="#0058ff"/><circle cx="415.8" cy="206.2" r="3.9" fill="#005aff"/><circle cx="428.0" cy="205.3" r="3.9" fill="#0072ff"/><circle cx="425.8" cy="206.0" r="3.9" fill="#0076ff"/><circle cx="423.5" cy="206.7" r="3.9" fill="#0073ff"/><circle cx="421.3" cy="207.5" r="3.9" fill="#007aff"/><circle cx="419.1" cy="208.2" r="3.9" fill="#008eff"/><circle cx="416.8" cy="208.9" r="3.9" fill="#00a5ff"/><circle cx="428.0" cy="208.3" r="3.9" fill="#00aaff"/><circle cx="425.5" cy="209.1" r="3.9" fill="#00b1ff"/><circle cx="422.9" cy="210.0" r="3.9" fill="#00b7ff"/><circle cx="420.4" cy="210.8" r="3.9" fill="#00bfff"/><circle cx="417.9" cy="211.6" r="3.9" fill="#00c8ff"/><circle cx="428.0" cy="211.4" r="3.9" fill="#00daff"/><circle cx="425.7" cy="212.1" r="3.9" fill="#00deff"/><circle cx="423.4" cy="212.9" r="3.9" fill="#00eeff"/><circle cx="421.2" cy="213.6" r="3.9" fill="#04fffb"/><circle cx="418.9" cy="214.4" r="3.9" fill="#12ffed"/><circle cx="428.0" cy="214.4" r="3.9" fill="#0afff5"/><circle cx="426.0" cy="215.1" r="3.9" fill="#21ffde"/><circle cx="424.0" cy="215.7" r="3.9" fill="#32ffcd"/><circle cx="421.9" cy="216.4" r="3.9" fill="#29ffd6"/><circle cx="419.9" cy="217.1" r="3.9" fill="#2bffd4"/><circle cx="428.0" cy="217.5" r="3.9" fill="#44ffbb"/><circle cx="425.7" cy="218.2" r="3.9" fill="#56ffa9"/><circle cx="423.3" cy="219.0" r="3.9" fill="#63ff9c"/><circle cx="421.0" cy="219.8" r="3.9" fill="#67ff98"/><circle cx="428.0" cy="220.5" r="3.9" fill="#79ff86"/><circle cx="426.0" cy="221.2" r="3.9" fill="#7dff82"/><circle cx="424.0" cy="221.8" r="3.9" fill="#6fff90"/><circle cx="422.0" cy="222.5" r="3.9" fill="#79ff86"/><circle cx="428.0" cy="223.6" r="3.9" fill="#96ff69"/><circle cx="425.5" cy="224.4" r="3.9" fill="#92ff6d"/><circle cx="423.1" cy="225.2" r="3.9" fill="#8cff73"/><circle cx="428.0" cy="226.6" r="3.9" fill="#8fff70"/><circle cx="426.0" cy="227.2" r="3.9" fill="#82ff7d"/><circle cx="424.1" cy="227.9" r="3.9" fill="#92ff6d"/><circle cx="428.0" cy="229.7" r="3.9" fill="#87ff78"/><circle cx="426.6" cy="230.1" r="3.9" fill="#99ff66"/><circle cx="425.1" cy="230.6" r="3.9" fill="#8aff75"/><circle cx="428.0" cy="232.7" r="3.9" fill="#89ff76"/><circle cx="426.2" cy="233.3" r="3.9" fill="#9eff61"/><circle cx="428.0" cy="235.8" r="3.9" fill="#97ff68"/><circle cx="427.2" cy="236.0" r="3.9" fill="#8bff74"/>
</g>
<path d="M850.45 213.4V243.4" stroke="#000" stroke-width="1.05"/>
<rect x="862.1" y="93.1" width="23.8" height="219.6" fill="url(#jet)"/>
<rect x="862.5" y="93.5" width="23.0" height="218.8" fill="none" stroke="#000" stroke-opacity="0.55" stroke-width="0.9"/>
<path d="M883.3 98.7H885.9" stroke="#262626" stroke-width="0.9"/>
<text class="b cb" x="894.3" y="106.1">290</text>
<path d="M883.3 174.4H885.9" stroke="#262626" stroke-width="0.9"/>
<text class="b cb" x="894.3" y="181.8">280</text>
<path d="M883.3 250.1H885.9" stroke="#262626" stroke-width="0.9"/>
<text class="b cb" x="894.3" y="257.5">270</text>
<text class="b tk" y="76.8"><tspan x="635.7">100</tspan><tspan x="673.6">W</tspan></text>
<text class="dg" transform="translate(666.1 64.5) scale(1.09 0.86)" x="-2.75" y="6.55">°</text>
<text class="b tk" y="76.8"><tspan x="705.2">90</tspan><tspan x="734.8">W</tspan></text>
<text class="dg" transform="translate(725.8 64.5) scale(1.09 0.86)" x="-2.75" y="6.55">°</text>
<text class="b tk" y="76.8"><tspan x="769.2">80</tspan><tspan x="798.8">W</tspan></text>
<text class="dg" transform="translate(791.0 64.5) scale(1.09 0.86)" x="-2.75" y="6.55">°</text>
<text class="b tk" y="76.8"><tspan x="832.4">70</tspan><tspan x="861.8">W</tspan></text>
<text class="dg" transform="translate(852.8 64.5) scale(1.09 0.86)" x="-2.75" y="6.55">°</text>
<text class="b tk" y="112.6"><tspan x="566.8">48</tspan><tspan x="595.8">N</tspan></text>
<text class="dg" transform="translate(588.7 99.4) scale(1.09 0.86)" x="-2.75" y="6.55">°</text>
<text class="b tk" y="130.7"><tspan x="566.8">46</tspan><tspan x="595.8">N</tspan></text>
<text class="dg" transform="translate(588.7 118.5) scale(1.09 0.86)" x="-2.75" y="6.55">°</text>
<text class="b tk" y="147.7"><tspan x="566.8">44</tspan><tspan x="595.8">N</tspan></text>
<text class="dg" transform="translate(588.7 135.4) scale(1.09 0.86)" x="-2.75" y="6.55">°</text>
<text class="b tk" y="166.6"><tspan x="566.8">42</tspan><tspan x="595.8">N</tspan></text>
<text class="dg" transform="translate(588.7 153.4) scale(1.09 0.86)" x="-2.75" y="6.55">°</text>
<text class="b tk" y="182.3"><tspan x="566.8">40</tspan><tspan x="595.8">N</tspan></text>
<text class="dg" transform="translate(588.7 170.5) scale(1.09 0.86)" x="-2.75" y="6.55">°</text>
<text class="b tk" y="197.7"><tspan x="566.8">38</tspan><tspan x="595.8">N</tspan></text>
<text class="dg" transform="translate(588.7 185.7) scale(1.09 0.86)" x="-2.75" y="6.55">°</text>
<text class="b tk" y="214.6"><tspan x="566.8">36</tspan><tspan x="595.8">N</tspan></text>
<text class="dg" transform="translate(588.7 201.5) scale(1.09 0.86)" x="-2.75" y="6.55">°</text>
<text class="b tk" y="228.7"><tspan x="566.8">34</tspan><tspan x="595.8">N</tspan></text>
<text class="dg" transform="translate(588.7 216.5) scale(1.09 0.86)" x="-2.75" y="6.55">°</text>
<text class="b tk" y="245.6"><tspan x="566.8">32</tspan><tspan x="595.8">N</tspan></text>
<text class="dg" transform="translate(588.7 233.5) scale(1.09 0.86)" x="-2.75" y="6.55">°</text>
<text class="b tk" y="259.7"><tspan x="566.8">30</tspan><tspan x="595.8">N</tspan></text>
<text class="dg" transform="translate(588.7 247.3) scale(1.09 0.86)" x="-2.75" y="6.55">°</text>
<text class="b tk" y="272.8"><tspan x="566.8">28</tspan><tspan x="595.8">N</tspan></text>
<text class="dg" transform="translate(588.7 260.4) scale(1.09 0.86)" x="-2.75" y="6.55">°</text>
<text class="b tk" y="287.4"><tspan x="566.8">26</tspan><tspan x="595.8">N</tspan></text>
<text class="dg" transform="translate(588.7 274.6) scale(1.09 0.86)" x="-2.75" y="6.55">°</text>
<text class="b tk" y="301.9"><tspan x="566.8">24</tspan><tspan x="595.8">N</tspan></text>
<text class="dg" transform="translate(588.7 289.1) scale(1.09 0.86)" x="-2.75" y="6.55">°</text>
<text class="b tk" y="315.0"><tspan x="566.8">22</tspan><tspan x="595.8">N</tspan></text>
<text class="dg" transform="translate(588.7 301.2) scale(1.09 0.86)" x="-2.75" y="6.55">°</text>
<text class="b xl" x="548.8" y="340.9">SAT+RAP 700 hPa Temp (K)</text>
<g transform="matrix(1.00428 0 0 1.00836 841.11 -1.76)">
<use href="#usmap"/>
</g>
<rect x="1037.50" y="95.50" width="234.90" height="214.75" fill="none" stroke="#000" stroke-width="1.05"/>
<g transform="matrix(1.00428 0 0 1.00836 841.11 -1.76)">
<circle cx="428.0" cy="177.8" r="3.9" fill="#0000c7"/><circle cx="425.6" cy="178.6" r="3.9" fill="#0000ce"/><circle cx="423.3" cy="179.4" r="3.9" fill="#0000dd"/><circle cx="420.9" cy="180.1" r="3.9" fill="#0000ee"/><circle cx="418.6" cy="180.9" r="3.9" fill="#0000fb"/><circle cx="416.2" cy="181.7" r="3.9" fill="#0000f9"/><circle cx="413.9" cy="182.5" r="3.9" fill="#0000f0"/><circle cx="411.6" cy="183.2" r="3.9" fill="#0000e8"/><circle cx="409.2" cy="184.0" r="3.9" fill="#0000e7"/><circle cx="428.0" cy="180.9" r="3.9" fill="#0000e7"/><circle cx="425.7" cy="181.6" r="3.9" fill="#0000f2"/><circle cx="423.4" cy="182.4" r="3.9" fill="#0000fd"/><circle cx="421.1" cy="183.1" r="3.9" fill="#0000fe"/><circle cx="418.8" cy="183.9" r="3.9" fill="#0000f5"/><circle cx="416.5" cy="184.6" r="3.9" fill="#0000eb"/><circle cx="414.2" cy="185.4" r="3.9" fill="#0000e9"/><circle cx="411.9" cy="186.2" r="3.9" fill="#0000f1"/><circle cx="409.6" cy="186.9" r="3.9" fill="#0000fe"/><circle cx="428.0" cy="183.9" r="3.9" fill="#0000f6"/><circle cx="425.5" cy="184.7" r="3.9" fill="#0000fe"/><circle cx="423.0" cy="185.5" r="3.9" fill="#0003ff"/><circle cx="420.6" cy="186.4" r="3.9" fill="#0003ff"/><circle cx="418.1" cy="187.2" r="3.9" fill="#0000ff"/><circle cx="415.6" cy="188.0" r="3.9" fill="#0000f9"/><circle cx="413.1" cy="188.8" r="3.9" fill="#0000f3"/><circle cx="410.7" cy="189.6" r="3.9" fill="#0000ef"/><circle cx="428.0" cy="187.0" r="3.9" fill="#0005ff"/><circle cx="425.7" cy="187.7" r="3.9" fill="#0004ff"/><circle cx="423.4" cy="188.5" r="3.9" fill="#0000fb"/><circle cx="421.0" cy="189.2" r="3.9" fill="#000dff"/><circle cx="418.7" cy="190.0" r="3.9" fill="#0027ff"/><circle cx="416.4" cy="190.8" r="3.9" fill="#004aff"/><circle cx="414.1" cy="191.5" r="3.9" fill="#006bff"/><circle cx="411.8" cy="192.3" r="3.9" fill="#0079ff"/><circle cx="428.0" cy="190.0" r="3.9" fill="#006aff"/><circle cx="425.5" cy="190.8" r="3.9" fill="#006fff"/><circle cx="422.9" cy="191.7" r="3.9" fill="#0073ff"/><circle cx="420.4" cy="192.5" r="3.9" fill="#0077ff"/><circle cx="417.9" cy="193.3" r="3.9" fill="#007eff"/><circle cx="415.4" cy="194.2" r="3.9" fill="#0086ff"/><circle cx="412.8" cy="195.0" r="3.9" fill="#0082ff"/><circle cx="428.0" cy="193.1" r="3.9" fill="#0090ff"/><circle cx="425.7" cy="193.8" r="3.9" fill="#0080ff"/><circle cx="423.3" cy="194.6" r="3.9" fill="#0078ff"/><circle cx="421.0" cy="195.4" r="3.9" fill="#0078ff"/><circle cx="418.6" cy="196.1" r="3.9" fill="#007aff"/><circle cx="416.3" cy="196.9" r="3.9" fill="#0076ff"/><circle cx="413.9" cy="197.7" r="3.9" fill="#0069ff"/><circle cx="428.0" cy="196.1" r="3.9" fill="#0058ff"/><circle cx="425.4" cy="197.0" r="3.9" fill="#004fff"/><circle cx="422.8" cy="197.8" r="3.9" fill="#0052ff"/><circle cx="420.2" cy="198.7" r="3.9" fill="#0060ff"/><circle cx="417.6" cy="199.5" r="3.9" fill="#006fff"/><circle cx="415.0" cy="200.4" r="3.9" fill="#007fff"/><circle cx="428.0" cy="199.2" r="3.9" fill="#007bff"/><circle cx="425.6" cy="199.9" r="3.9" fill="#0090ff"/><circle cx="423.2" cy="200.7" r="3.9" fill="#0092ff"/><circle cx="420.9" cy="201.5" r="3.9" fill="#0078ff"/><circle cx="418.5" cy="202.3" r="3.9" fill="#0056ff"/><circle cx="416.1" cy="203.1" r="3.9" fill="#0030ff"/><circle cx="428.0" cy="202.2" r="3.9" fill="#003dff"/><circle cx="425.8" cy="202.9" r="3.9" fill="#005bff"/><circle cx="423.7" cy="203.6" r="3.9" fill="#0067ff"/><circle cx="421.5" cy="204.3" r="3.9" fill="#0073ff"/><circle cx="419.4" cy="205.1" r="3.9" fill="#008fff"/><circle cx="417.2" cy="205.8" r="3.9" fill="#00b6ff"/><circle cx="428.0" cy="205.3" r="3.9" fill="#00c1ff"/><circle cx="425.6" cy="206.1" r="3.9" fill="#00adff"/><circle cx="423.1" cy="206.9" r="3.9" fill="#0095ff"/><circle cx="420.7" cy="207.7" r="3.9" fill="#007cff"/><circle cx="418.3" cy="208.5" r="3.9" fill="#0065ff"/><circle cx="428.0" cy="208.3" r="3.9" fill="#0064ff"/><circle cx="425.8" cy="209.0" r="3.9" fill="#0052ff"/><circle cx="423.7" cy="209.7" r="3.9" fill="#004dff"/><circle cx="421.5" cy="210.4" r="3.9" fill="#0058ff"/><circle cx="419.4" cy="211.1" r="3.9" fill="#005cff"/><circle cx="428.0" cy="211.4" r="3.9" fill="#0040ff"/><circle cx="425.5" cy="212.2" r="3.9" fill="#0038ff"/><circle cx="423.0" cy="213.0" r="3.9" fill="#0034ff"/><circle cx="420.5" cy="213.8" r="3.9" fill="#0033ff"/><circle cx="428.0" cy="214.4" r="3.9" fill="#002aff"/><circle cx="425.9" cy="215.1" r="3.9" fill="#0033ff"/><circle cx="423.7" cy="215.8" r="3.9" fill="#003dff"/><circle cx="421.6" cy="216.5" r="3.9" fill="#0035ff"/><circle cx="428.0" cy="217.5" r="3.9" fill="#0023ff"/><circle cx="426.2" cy="218.0" r="3.9" fill="#0030ff"/><circle cx="424.4" cy="218.6" r="3.9" fill="#0023ff"/><circle cx="422.7" cy="219.2" r="3.9" fill="#003aff"/><circle cx="428.0" cy="220.5" r="3.9" fill="#0081ff"/><circle cx="425.9" cy="221.2" r="3.9" fill="#0094ff"/><circle cx="423.7" cy="221.9" r="3.9" fill="#0098ff"/><circle cx="428.0" cy="223.6" r="3.9" fill="#00fdff"/><circle cx="426.4" cy="224.1" r="3.9" fill="#00f5ff"/><circle cx="424.8" cy="224.6" r="3.9" fill="#10ffef"/><circle cx="428.0" cy="226.6" r="3.9" fill="#12ffed"/><circle cx="425.9" cy="227.3" r="3.9" fill="#06fff9"/><circle cx="428.0" cy="229.7" r="3.9" fill="#1bffe4"/><circle cx="427.0" cy="230.0" r="3.9" fill="#34ffcb"/><circle cx="428.0" cy="232.7" r="3.9" fill="#4dffb2"/><circle cx="428.0" cy="232.7" r="3.9" fill="#4dffb2"/><circle cx="428.0" cy="235.8" r="3.9" fill="#81ff7e"/><circle cx="428.0" cy="235.8" r="3.9" fill="#81ff7e"/>
</g>
<path d="M1272.40 212.5V242.5" stroke="#000" stroke-width="1.05"/>
<rect x="1285.1" y="93.0" width="23.8" height="219.7" fill="url(#jet)"/>
<rect x="1285.5" y="93.4" width="23.0" height="218.9" fill="none" stroke="#000" stroke-opacity="0.55" stroke-width="0.9"/>
<path d="M1306.3 136.5H1308.9" stroke="#262626" stroke-width="0.9"/>
<text class="b cb" x="1317.1" y="143.9">265</text>
<path d="M1306.3 183.1H1308.9" stroke="#262626" stroke-width="0.9"/>
<text class="b cb" x="1317.1" y="190.5">260</text>
<path d="M1306.3 229.8H1308.9" stroke="#262626" stroke-width="0.9"/>
<text class="b cb" x="1317.1" y="237.2">255</text>
<path d="M1306.3 275.9H1308.9" stroke="#262626" stroke-width="0.9"/>
<text class="b cb" x="1317.1" y="283.3">250</text>
<text class="b tk" y="75.0"><tspan x="1058.5">100</tspan><tspan x="1096.6">W</tspan></text>
<text class="dg" transform="translate(1087.8 62.7) scale(1.09 0.86)" x="-2.75" y="6.55">°</text>
<text class="b tk" y="75.0"><tspan x="1127.2">90</tspan><tspan x="1156.8">W</tspan></text>
<text class="dg" transform="translate(1148.8 62.7) scale(1.09 0.86)" x="-2.75" y="6.55">°</text>
<text class="b tk" y="75.0"><tspan x="1190.2">80</tspan><tspan x="1219.8">W</tspan></text>
<text class="dg" transform="translate(1211.0 62.7) scale(1.09 0.86)" x="-2.75" y="6.55">°</text>
<text class="b tk" y="75.0"><tspan x="1255.4">70</tspan><tspan x="1284.6">W</tspan></text>
<text class="dg" transform="translate(1275.8 62.7) scale(1.09 0.86)" x="-2.75" y="6.55">°</text>
<text class="b tk" y="112.6"><tspan x="987.8">48</tspan><tspan x="1016.8">N</tspan></text>
<text class="dg" transform="translate(1009.7 99.4) scale(1.09 0.86)" x="-2.75" y="6.55">°</text>
<text class="b tk" y="130.7"><tspan x="987.8">46</tspan><tspan x="1016.8">N</tspan></text>
<text class="dg" transform="translate(1009.7 118.5) scale(1.09 0.86)" x="-2.75" y="6.55">°</text>
<text class="b tk" y="147.7"><tspan x="987.8">44</tspan><tspan x="1016.8">N</tspan></text>
<text class="dg" transform="translate(1009.7 135.4) scale(1.09 0.86)" x="-2.75" y="6.55">°</text>
<text class="b tk" y="166.6"><tspan x="987.8">42</tspan><tspan x="1016.8">N</tspan></text>
<text class="dg" transform="translate(1009.7 153.4) scale(1.09 0.86)" x="-2.75" y="6.55">°</text>
<text class="b tk" y="182.3"><tspan x="987.8">40</tspan><tspan x="1016.8">N</tspan></text>
<text class="dg" transform="translate(1009.7 170.5) scale(1.09 0.86)" x="-2.75" y="6.55">°</text>
<text class="b tk" y="197.7"><tspan x="987.8">38</tspan><tspan x="1016.8">N</tspan></text>
<text class="dg" transform="translate(1009.7 185.7) scale(1.09 0.86)" x="-2.75" y="6.55">°</text>
<text class="b tk" y="214.6"><tspan x="987.8">36</tspan><tspan x="1016.8">N</tspan></text>
<text class="dg" transform="translate(1009.7 201.5) scale(1.09 0.86)" x="-2.75" y="6.55">°</text>
<text class="b tk" y="228.7"><tspan x="987.8">34</tspan><tspan x="1016.8">N</tspan></text>
<text class="dg" transform="translate(1009.7 216.5) scale(1.09 0.86)" x="-2.75" y="6.55">°</text>
<text class="b tk" y="245.6"><tspan x="987.8">32</tspan><tspan x="1016.8">N</tspan></text>
<text class="dg" transform="translate(1009.7 233.5) scale(1.09 0.86)" x="-2.75" y="6.55">°</text>
<text class="b tk" y="260.0"><tspan x="987.8">30</tspan><tspan x="1016.8">N</tspan></text>
<text class="dg" transform="translate(1009.7 247.6) scale(1.09 0.86)" x="-2.75" y="6.55">°</text>
<text class="b tk" y="275.0"><tspan x="987.8">28</tspan><tspan x="1016.8">N</tspan></text>
<text class="dg" transform="translate(1009.7 262.6) scale(1.09 0.86)" x="-2.75" y="6.55">°</text>
<text class="b tk" y="289.9"><tspan x="987.8">26</tspan><tspan x="1016.8">N</tspan></text>
<text class="dg" transform="translate(1009.7 277.1) scale(1.09 0.86)" x="-2.75" y="6.55">°</text>
<text class="b tk" y="301.9"><tspan x="987.8">24</tspan><tspan x="1016.8">N</tspan></text>
<text class="dg" transform="translate(1009.7 289.1) scale(1.09 0.86)" x="-2.75" y="6.55">°</text>
<text class="b tk" y="317.2"><tspan x="987.8">22</tspan><tspan x="1016.8">N</tspan></text>
<text class="dg" transform="translate(1009.7 303.4) scale(1.09 0.86)" x="-2.75" y="6.55">°</text>
<text class="b xl" x="971.1" y="341.8">SAT+RAP 500 hPa Temp (K)</text>
<g transform="matrix(1.00000 0 0 1.00211 0.00 389.30)">
<use href="#usmap"/>
</g>
<rect x="195.55" y="485.95" width="233.90" height="213.42" fill="none" stroke="#000" stroke-width="1.05"/>
<g transform="matrix(1.00000 0 0 1.00211 0.00 389.30)">
<circle cx="418.8" cy="185.6" r="3.9" fill="#ffd000"/><circle cx="420.5" cy="186.9" r="3.9" fill="#ff4000"/><circle cx="426.6" cy="194.3" r="3.9" fill="#20e0e0"/><circle cx="418.8" cy="180.7" r="3.9" fill="#8b0000"/><circle cx="422.4" cy="181.3" r="3.9" fill="#8b0000"/><circle cx="408.1" cy="185.6" r="3.9" fill="#8b0000"/><circle cx="410.9" cy="191.0" r="3.9" fill="#8b0000"/><circle cx="415.8" cy="192.2" r="3.9" fill="#8b0000"/><circle cx="421.2" cy="191.6" r="3.9" fill="#8b0000"/><circle cx="426.7" cy="189.8" r="3.9" fill="#8b0000"/><circle cx="428.5" cy="186.2" r="3.9" fill="#8b0000"/><circle cx="413.0" cy="188.4" r="3.9" fill="#8b0000"/><circle cx="424.0" cy="188.4" r="3.9" fill="#8b0000"/><circle cx="418.9" cy="185.2" r="2.3" fill="#ffb010"/><circle cx="426.7" cy="206.2" r="3.9" fill="#80ff90"/><circle cx="417.0" cy="206.8" r="3.9" fill="#ffe000"/><circle cx="418.8" cy="212.8" r="3.9" fill="#ff3000"/><circle cx="425.5" cy="211.0" r="3.9" fill="#ff9000"/><circle cx="423.0" cy="215.9" r="3.9" fill="#c0ff40"/><circle cx="421.8" cy="220.1" r="3.9" fill="#ffc000"/><circle cx="426.0" cy="219.5" r="3.9" fill="#ff4000"/>
</g>
<path d="M429.45 556.0V611.0" stroke="#000" stroke-width="1.05"/>
<rect x="441.1" y="483.3" width="23.8" height="219.2" fill="url(#jet)"/>
<rect x="441.5" y="483.7" width="23.0" height="218.4" fill="none" stroke="#000" stroke-opacity="0.55" stroke-width="0.9"/>
<text class="b cb" x="473.7" y="490.8">2</text>
<path d="M462.3 537.7H464.9" stroke="#262626" stroke-width="0.9"/>
<text class="b cb" x="473.7" y="545.1">1</text>
<path d="M462.3 592.7H464.9" stroke="#262626" stroke-width="0.9"/>
<text class="b cb" x="473.7" y="600.1">0</text>
<path d="M462.3 647.5H464.9" stroke="#262626" stroke-width="0.9"/>
<text class="b cb" x="473.7" y="654.9">-1</text>
<text class="b cb" x="473.7" y="709.4">-2</text>
<text class="b tk" y="466.4"><tspan x="214.7">100</tspan><tspan x="252.6">W</tspan></text>
<text class="dg" transform="translate(245.1 454.1) scale(1.09 0.86)" x="-2.75" y="6.55">°</text>
<text class="b tk" y="466.4"><tspan x="284.2">90</tspan><tspan x="313.8">W</tspan></text>
<text class="dg" transform="translate(304.8 454.1) scale(1.09 0.86)" x="-2.75" y="6.55">°</text>
<text class="b tk" y="466.4"><tspan x="348.2">80</tspan><tspan x="377.8">W</tspan></text>
<text class="dg" transform="translate(370.0 454.1) scale(1.09 0.86)" x="-2.75" y="6.55">°</text>
<text class="b tk" y="466.4"><tspan x="411.4">70</tspan><tspan x="440.8">W</tspan></text>
<text class="dg" transform="translate(431.8 454.1) scale(1.09 0.86)" x="-2.75" y="6.55">°</text>
<text class="b tk" y="502.2"><tspan x="145.8">48</tspan><tspan x="174.8">N</tspan></text>
<text class="dg" transform="translate(167.7 489.0) scale(1.09 0.86)" x="-2.75" y="6.55">°</text>
<text class="b tk" y="520.3"><tspan x="145.8">46</tspan><tspan x="174.8">N</tspan></text>
<text class="dg" transform="translate(167.7 508.1) scale(1.09 0.86)" x="-2.75" y="6.55">°</text>
<text class="b tk" y="537.3"><tspan x="145.8">44</tspan><tspan x="174.8">N</tspan></text>
<text class="dg" transform="translate(167.7 525.0) scale(1.09 0.86)" x="-2.75" y="6.55">°</text>
<text class="b tk" y="556.2"><tspan x="145.8">42</tspan><tspan x="174.8">N</tspan></text>
<text class="dg" transform="translate(167.7 543.0) scale(1.09 0.86)" x="-2.75" y="6.55">°</text>
<text class="b tk" y="571.9"><tspan x="145.8">40</tspan><tspan x="174.8">N</tspan></text>
<text class="dg" transform="translate(167.7 560.1) scale(1.09 0.86)" x="-2.75" y="6.55">°</text>
<text class="b tk" y="587.3"><tspan x="145.8">38</tspan><tspan x="174.8">N</tspan></text>
<text class="dg" transform="translate(167.7 575.3) scale(1.09 0.86)" x="-2.75" y="6.55">°</text>
<text class="b tk" y="604.2"><tspan x="145.8">36</tspan><tspan x="174.8">N</tspan></text>
<text class="dg" transform="translate(167.7 591.1) scale(1.09 0.86)" x="-2.75" y="6.55">°</text>
<text class="b tk" y="618.3"><tspan x="145.8">34</tspan><tspan x="174.8">N</tspan></text>
<text class="dg" transform="translate(167.7 606.1) scale(1.09 0.86)" x="-2.75" y="6.55">°</text>
<text class="b tk" y="635.2"><tspan x="145.8">32</tspan><tspan x="174.8">N</tspan></text>
<text class="dg" transform="translate(167.7 623.1) scale(1.09 0.86)" x="-2.75" y="6.55">°</text>
<text class="b tk" y="649.3"><tspan x="145.8">30</tspan><tspan x="174.8">N</tspan></text>
<text class="dg" transform="translate(167.7 636.9) scale(1.09 0.86)" x="-2.75" y="6.55">°</text>
<text class="b tk" y="662.4"><tspan x="145.8">28</tspan><tspan x="174.8">N</tspan></text>
<text class="dg" transform="translate(167.7 650.0) scale(1.09 0.86)" x="-2.75" y="6.55">°</text>
<text class="b tk" y="677.0"><tspan x="145.8">26</tspan><tspan x="174.8">N</tspan></text>
<text class="dg" transform="translate(167.7 664.2) scale(1.09 0.86)" x="-2.75" y="6.55">°</text>
<text class="b tk" y="691.5"><tspan x="145.8">24</tspan><tspan x="174.8">N</tspan></text>
<text class="dg" transform="translate(167.7 678.7) scale(1.09 0.86)" x="-2.75" y="6.55">°</text>
<text class="b tk" y="704.6"><tspan x="145.8">22</tspan><tspan x="174.8">N</tspan></text>
<text class="dg" transform="translate(167.7 690.8) scale(1.09 0.86)" x="-2.75" y="6.55">°</text>
<text class="b xl" x="133.2" y="730.8">SAT-RAP 850 hPa Temp (K)</text>
<g transform="matrix(1.00000 0 0 1.00211 421.00 389.30)">
<use href="#usmap"/>
</g>
<rect x="616.55" y="485.95" width="233.90" height="213.42" fill="none" stroke="#000" stroke-width="1.05"/>
<g transform="matrix(1.00000 0 0 1.00211 421.00 389.30)">
<circle cx="419.6" cy="186.2" r="3.9" fill="#40e0a0"/><circle cx="416.6" cy="181.3" r="3.9" fill="#e03010"/><circle cx="420.2" cy="180.1" r="3.9" fill="#a00808"/><circle cx="428.1" cy="178.9" r="3.9" fill="#0010c0"/><circle cx="428.1" cy="186.2" r="3.9" fill="#f03000"/><circle cx="407.5" cy="184.4" r="3.9" fill="#8b0000"/><circle cx="409.5" cy="189.4" r="3.9" fill="#8b0000"/><circle cx="412.0" cy="194.4" r="3.9" fill="#8b0000"/><circle cx="415.5" cy="196.9" r="3.9" fill="#8b0000"/><circle cx="419.0" cy="194.4" r="3.9" fill="#8b0000"/><circle cx="423.0" cy="192.9" r="3.9" fill="#8b0000"/><circle cx="427.3" cy="191.6" r="3.9" fill="#8b0000"/><circle cx="417.0" cy="189.4" r="3.9" fill="#8b0000"/><circle cx="413.0" cy="190.9" r="3.9" fill="#8b0000"/><circle cx="422.0" cy="188.4" r="3.9" fill="#8b0000"/><circle cx="425.0" cy="195.4" r="3.9" fill="#8b0000"/><circle cx="420.0" cy="197.9" r="3.9" fill="#8b0000"/><circle cx="411.7" cy="201.4" r="3.9" fill="#ff8000"/><circle cx="416.6" cy="200.1" r="3.9" fill="#ffe000"/><circle cx="422.0" cy="199.4" r="3.9" fill="#ffc000"/><circle cx="427.5" cy="198.3" r="3.9" fill="#ff9000"/><circle cx="420.2" cy="203.1" r="3.9" fill="#900000"/><circle cx="424.0" cy="202.6" r="3.9" fill="#980000"/><circle cx="427.8" cy="201.9" r="3.9" fill="#900000"/><circle cx="414.2" cy="206.2" r="3.9" fill="#ff7000"/><circle cx="420.2" cy="206.8" r="3.9" fill="#e01010"/><circle cx="424.0" cy="207.8" r="3.9" fill="#d00808"/><circle cx="427.5" cy="208.6" r="3.9" fill="#e01010"/><circle cx="430.0" cy="206.8" r="2.4" fill="#5020b0"/><circle cx="416.0" cy="212.2" r="3.9" fill="#20a0ff"/><circle cx="421.4" cy="213.4" r="3.9" fill="#2050e0"/><circle cx="425.5" cy="212.9" r="3.9" fill="#c01010"/><circle cx="426.3" cy="218.3" r="3.9" fill="#20d0ff"/><circle cx="422.0" cy="217.9" r="3.9" fill="#20b0ff"/><circle cx="419.0" cy="221.0" r="2.6" fill="#d01010"/><circle cx="420.8" cy="219.4" r="3.2" fill="#1030b0"/>
</g>
<path d="M850.45 556.0V611.0" stroke="#000" stroke-width="1.05"/>
<rect x="862.1" y="483.3" width="23.8" height="219.2" fill="url(#jet)"/>
<rect x="862.5" y="483.7" width="23.0" height="218.4" fill="none" stroke="#000" stroke-opacity="0.55" stroke-width="0.9"/>
<text class="b cb" x="894.7" y="490.8">2</text>
<path d="M883.3 537.7H885.9" stroke="#262626" stroke-width="0.9"/>
<text class="b cb" x="894.7" y="545.1">1</text>
<path d="M883.3 592.7H885.9" stroke="#262626" stroke-width="0.9"/>
<text class="b cb" x="894.7" y="600.1">0</text>
<path d="M883.3 647.5H885.9" stroke="#262626" stroke-width="0.9"/>
<text class="b cb" x="894.7" y="654.9">-1</text>
<text class="b cb" x="894.7" y="709.4">-2</text>
<text class="b tk" y="466.4"><tspan x="635.7">100</tspan><tspan x="673.6">W</tspan></text>
<text class="dg" transform="translate(666.1 454.1) scale(1.09 0.86)" x="-2.75" y="6.55">°</text>
<text class="b tk" y="466.4"><tspan x="705.2">90</tspan><tspan x="734.8">W</tspan></text>
<text class="dg" transform="translate(725.8 454.1) scale(1.09 0.86)" x="-2.75" y="6.55">°</text>
<text class="b tk" y="466.4"><tspan x="769.2">80</tspan><tspan x="798.8">W</tspan></text>
<text class="dg" transform="translate(791.0 454.1) scale(1.09 0.86)" x="-2.75" y="6.55">°</text>
<text class="b tk" y="466.4"><tspan x="832.4">70</tspan><tspan x="861.8">W</tspan></text>
<text class="dg" transform="translate(852.8 454.1) scale(1.09 0.86)" x="-2.75" y="6.55">°</text>
<text class="b tk" y="502.2"><tspan x="566.8">48</tspan><tspan x="595.8">N</tspan></text>
<text class="dg" transform="translate(588.7 489.0) scale(1.09 0.86)" x="-2.75" y="6.55">°</text>
<text class="b tk" y="520.3"><tspan x="566.8">46</tspan><tspan x="595.8">N</tspan></text>
<text class="dg" transform="translate(588.7 508.1) scale(1.09 0.86)" x="-2.75" y="6.55">°</text>
<text class="b tk" y="537.3"><tspan x="566.8">44</tspan><tspan x="595.8">N</tspan></text>
<text class="dg" transform="translate(588.7 525.0) scale(1.09 0.86)" x="-2.75" y="6.55">°</text>
<text class="b tk" y="556.2"><tspan x="566.8">42</tspan><tspan x="595.8">N</tspan></text>
<text class="dg" transform="translate(588.7 543.0) scale(1.09 0.86)" x="-2.75" y="6.55">°</text>
<text class="b tk" y="571.9"><tspan x="566.8">40</tspan><tspan x="595.8">N</tspan></text>
<text class="dg" transform="translate(588.7 560.1) scale(1.09 0.86)" x="-2.75" y="6.55">°</text>
<text class="b tk" y="587.3"><tspan x="566.8">38</tspan><tspan x="595.8">N</tspan></text>
<text class="dg" transform="translate(588.7 575.3) scale(1.09 0.86)" x="-2.75" y="6.55">°</text>
<text class="b tk" y="604.2"><tspan x="566.8">36</tspan><tspan x="595.8">N</tspan></text>
<text class="dg" transform="translate(588.7 591.1) scale(1.09 0.86)" x="-2.75" y="6.55">°</text>
<text class="b tk" y="618.3"><tspan x="566.8">34</tspan><tspan x="595.8">N</tspan></text>
<text class="dg" transform="translate(588.7 606.1) scale(1.09 0.86)" x="-2.75" y="6.55">°</text>
<text class="b tk" y="635.2"><tspan x="566.8">32</tspan><tspan x="595.8">N</tspan></text>
<text class="dg" transform="translate(588.7 623.1) scale(1.09 0.86)" x="-2.75" y="6.55">°</text>
<text class="b tk" y="649.3"><tspan x="566.8">30</tspan><tspan x="595.8">N</tspan></text>
<text class="dg" transform="translate(588.7 636.9) scale(1.09 0.86)" x="-2.75" y="6.55">°</text>
<text class="b tk" y="662.4"><tspan x="566.8">28</tspan><tspan x="595.8">N</tspan></text>
<text class="dg" transform="translate(588.7 650.0) scale(1.09 0.86)" x="-2.75" y="6.55">°</text>
<text class="b tk" y="677.0"><tspan x="566.8">26</tspan><tspan x="595.8">N</tspan></text>
<text class="dg" transform="translate(588.7 664.2) scale(1.09 0.86)" x="-2.75" y="6.55">°</text>
<text class="b tk" y="691.5"><tspan x="566.8">24</tspan><tspan x="595.8">N</tspan></text>
<text class="dg" transform="translate(588.7 678.7) scale(1.09 0.86)" x="-2.75" y="6.55">°</text>
<text class="b tk" y="704.6"><tspan x="566.8">22</tspan><tspan x="595.8">N</tspan></text>
<text class="dg" transform="translate(588.7 690.8) scale(1.09 0.86)" x="-2.75" y="6.55">°</text>
<text class="b xl" x="554.2" y="730.8">SAT-RAP 700 hPa Temp (K)</text>
<g transform="matrix(1.00428 0 0 1.01305 841.11 387.19)">
<use href="#usmap"/>
</g>
<rect x="1037.50" y="484.90" width="234.90" height="215.75" fill="none" stroke="#000" stroke-width="1.05"/>
<g transform="matrix(1.00428 0 0 1.01305 841.11 387.19)">
<circle cx="408.7" cy="185.1" r="3.9" fill="#8b0000"/><circle cx="412.2" cy="182.1" r="3.9" fill="#8b0000"/><circle cx="415.6" cy="181.1" r="3.9" fill="#8b0000"/><circle cx="419.5" cy="180.3" r="3.9" fill="#8b0000"/><circle cx="423.1" cy="179.4" r="3.9" fill="#8b0000"/><circle cx="426.6" cy="178.5" r="3.9" fill="#8b0000"/><circle cx="429.2" cy="178.0" r="3.9" fill="#8b0000"/><circle cx="410.2" cy="188.6" r="3.9" fill="#8b0000"/><circle cx="413.6" cy="186.6" r="3.9" fill="#a00000"/><circle cx="417.1" cy="186.1" r="3.9" fill="#ff6020"/><circle cx="420.1" cy="184.6" r="3.9" fill="#b00808"/><circle cx="424.1" cy="183.6" r="3.9" fill="#a80404"/><circle cx="428.6" cy="182.6" r="3.9" fill="#900000"/><circle cx="411.7" cy="192.0" r="3.9" fill="#8b0000"/><circle cx="415.6" cy="191.5" r="3.9" fill="#a00000"/><circle cx="419.6" cy="190.6" r="3.9" fill="#b80808"/><circle cx="423.6" cy="189.6" r="3.9" fill="#c01010"/><circle cx="427.6" cy="188.6" r="3.9" fill="#b00808"/><circle cx="429.5" cy="186.6" r="3.9" fill="#a00000"/><circle cx="413.5" cy="196.5" r="3.9" fill="#d01010"/><circle cx="417.1" cy="195.5" r="3.9" fill="#980000"/><circle cx="421.1" cy="195.0" r="3.9" fill="#a00000"/><circle cx="425.1" cy="194.0" r="3.9" fill="#c01010"/><circle cx="429.1" cy="193.0" r="3.9" fill="#b00808"/><circle cx="413.5" cy="200.2" r="3.9" fill="#70e070"/><circle cx="418.1" cy="199.5" r="3.9" fill="#ff5000"/><circle cx="423.1" cy="198.4" r="3.9" fill="#ff9000"/><circle cx="427.1" cy="197.5" r="3.9" fill="#ffc000"/><circle cx="429.5" cy="197.2" r="3.9" fill="#f0e020"/><circle cx="417.1" cy="203.7" r="3.9" fill="#e01010"/><circle cx="421.6" cy="202.5" r="3.9" fill="#ff6000"/><circle cx="425.6" cy="204.9" r="3.9" fill="#900000"/><circle cx="430.3" cy="201.4" r="3.9" fill="#ffb000"/><circle cx="415.9" cy="207.4" r="3.9" fill="#ff3000"/><circle cx="420.1" cy="207.4" r="3.9" fill="#c00808"/><circle cx="424.4" cy="209.8" r="3.9" fill="#d01010"/><circle cx="430.3" cy="209.8" r="3.9" fill="#900000"/><circle cx="428.1" cy="206.4" r="3.9" fill="#980000"/><circle cx="415.9" cy="210.9" r="3.9" fill="#40e0b0"/><circle cx="419.1" cy="211.9" r="3.9" fill="#40e0b0"/><circle cx="423.1" cy="213.4" r="3.9" fill="#e02010"/><circle cx="428.1" cy="213.4" r="3.9" fill="#b00808"/><circle cx="419.5" cy="215.1" r="3.9" fill="#f0d020"/><circle cx="422.1" cy="217.3" r="3.9" fill="#40e0ff"/><circle cx="425.6" cy="218.2" r="3.9" fill="#40e0ff"/><circle cx="428.6" cy="216.8" r="3.9" fill="#30d0ff"/><circle cx="420.1" cy="220.0" r="3.9" fill="#9060a0"/><circle cx="424.1" cy="220.8" r="3.9" fill="#40d8ff"/>
</g>
<path d="M1272.40 554.9V609.9" stroke="#000" stroke-width="1.05"/>
<rect x="1285.1" y="483.3" width="23.8" height="219.2" fill="url(#jet)"/>
<rect x="1285.5" y="483.7" width="23.0" height="218.4" fill="none" stroke="#000" stroke-opacity="0.55" stroke-width="0.9"/>
<text class="b cb" x="1317.1" y="490.8">2</text>
<path d="M1306.3 537.7H1308.9" stroke="#262626" stroke-width="0.9"/>
<text class="b cb" x="1317.1" y="545.1">1</text>
<path d="M1306.3 592.7H1308.9" stroke="#262626" stroke-width="0.9"/>
<text class="b cb" x="1317.1" y="600.1">0</text>
<path d="M1306.3 647.5H1308.9" stroke="#262626" stroke-width="0.9"/>
<text class="b cb" x="1317.1" y="654.9">-1</text>
<text class="b cb" x="1317.1" y="709.4">-2</text>
<text class="b tk" y="464.6"><tspan x="1058.5">100</tspan><tspan x="1096.6">W</tspan></text>
<text class="dg" transform="translate(1087.8 452.3) scale(1.09 0.86)" x="-2.75" y="6.55">°</text>
<text class="b tk" y="464.6"><tspan x="1127.2">90</tspan><tspan x="1156.8">W</tspan></text>
<text class="dg" transform="translate(1148.8 452.3) scale(1.09 0.86)" x="-2.75" y="6.55">°</text>
<text class="b tk" y="464.6"><tspan x="1190.2">80</tspan><tspan x="1219.8">W</tspan></text>
<text class="dg" transform="translate(1211.0 452.3) scale(1.09 0.86)" x="-2.75" y="6.55">°</text>
<text class="b tk" y="464.6"><tspan x="1255.4">70</tspan><tspan x="1284.6">W</tspan></text>
<text class="dg" transform="translate(1275.8 452.3) scale(1.09 0.86)" x="-2.75" y="6.55">°</text>
<text class="b tk" y="502.2"><tspan x="987.8">48</tspan><tspan x="1016.8">N</tspan></text>
<text class="dg" transform="translate(1009.7 489.0) scale(1.09 0.86)" x="-2.75" y="6.55">°</text>
<text class="b tk" y="520.3"><tspan x="987.8">46</tspan><tspan x="1016.8">N</tspan></text>
<text class="dg" transform="translate(1009.7 508.1) scale(1.09 0.86)" x="-2.75" y="6.55">°</text>
<text class="b tk" y="537.3"><tspan x="987.8">44</tspan><tspan x="1016.8">N</tspan></text>
<text class="dg" transform="translate(1009.7 525.0) scale(1.09 0.86)" x="-2.75" y="6.55">°</text>
<text class="b tk" y="556.2"><tspan x="987.8">42</tspan><tspan x="1016.8">N</tspan></text>
<text class="dg" transform="translate(1009.7 543.0) scale(1.09 0.86)" x="-2.75" y="6.55">°</text>
<text class="b tk" y="571.9"><tspan x="987.8">40</tspan><tspan x="1016.8">N</tspan></text>
<text class="dg" transform="translate(1009.7 560.1) scale(1.09 0.86)" x="-2.75" y="6.55">°</text>
<text class="b tk" y="587.3"><tspan x="987.8">38</tspan><tspan x="1016.8">N</tspan></text>
<text class="dg" transform="translate(1009.7 575.3) scale(1.09 0.86)" x="-2.75" y="6.55">°</text>
<text class="b tk" y="604.2"><tspan x="987.8">36</tspan><tspan x="1016.8">N</tspan></text>
<text class="dg" transform="translate(1009.7 591.1) scale(1.09 0.86)" x="-2.75" y="6.55">°</text>
<text class="b tk" y="618.3"><tspan x="987.8">34</tspan><tspan x="1016.8">N</tspan></text>
<text class="dg" transform="translate(1009.7 606.1) scale(1.09 0.86)" x="-2.75" y="6.55">°</text>
<text class="b tk" y="635.2"><tspan x="987.8">32</tspan><tspan x="1016.8">N</tspan></text>
<text class="dg" transform="translate(1009.7 623.1) scale(1.09 0.86)" x="-2.75" y="6.55">°</text>
<text class="b tk" y="649.6"><tspan x="987.8">30</tspan><tspan x="1016.8">N</tspan></text>
<text class="dg" transform="translate(1009.7 637.2) scale(1.09 0.86)" x="-2.75" y="6.55">°</text>
<text class="b tk" y="664.6"><tspan x="987.8">28</tspan><tspan x="1016.8">N</tspan></text>
<text class="dg" transform="translate(1009.7 652.2) scale(1.09 0.86)" x="-2.75" y="6.55">°</text>
<text class="b tk" y="679.5"><tspan x="987.8">26</tspan><tspan x="1016.8">N</tspan></text>
<text class="dg" transform="translate(1009.7 666.7) scale(1.09 0.86)" x="-2.75" y="6.55">°</text>
<text class="b tk" y="691.5"><tspan x="987.8">24</tspan><tspan x="1016.8">N</tspan></text>
<text class="dg" transform="translate(1009.7 678.7) scale(1.09 0.86)" x="-2.75" y="6.55">°</text>
<text class="b tk" y="706.8"><tspan x="987.8">22</tspan><tspan x="1016.8">N</tspan></text>
<text class="dg" transform="translate(1009.7 693.0) scale(1.09 0.86)" x="-2.75" y="6.55">°</text>
<text class="b xl" x="976.1" y="731.8">SAT-RAP 500 hPa Temp (K)</text>
</svg></body></html>
